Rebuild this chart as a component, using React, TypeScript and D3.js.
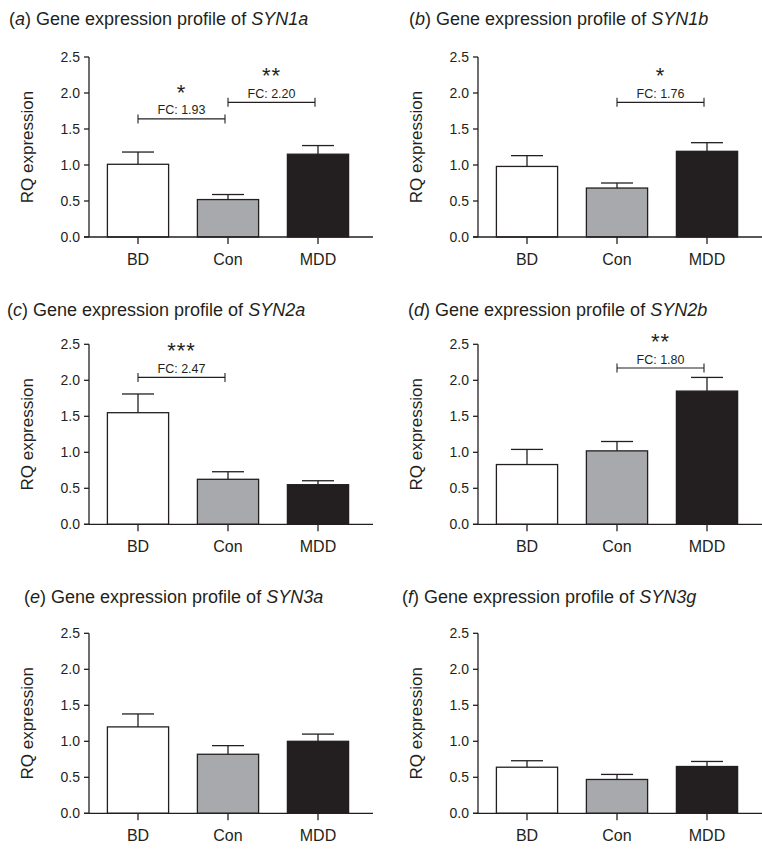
import React from "react";
import * as d3 from "d3";

// ---------- data ----------
const categories = ["BD", "Con", "MDD"];
const panelLetters = ["a", "b", "c", "d", "e", "f"];
const geneNames = ["SYN1a", "SYN1b", "SYN2a", "SYN2b", "SYN3a", "SYN3g"];
const meanValues = [
  [1.01, 0.52, 1.15],
  [0.98, 0.68, 1.19],
  [1.55, 0.625, 0.55],
  [0.83, 1.02, 1.85],
  [1.2, 0.82, 1.0],
  [0.64, 0.47, 0.65],
];
const errorValues = [
  [0.17, 0.07, 0.12],
  [0.15, 0.07, 0.12],
  [0.26, 0.105, 0.055],
  [0.21, 0.13, 0.19],
  [0.18, 0.12, 0.1],
  [0.09, 0.07, 0.07],
];
const yTicks = [0, 0.5, 1.0, 1.5, 2.0, 2.5];
const compPanels = [0, 0, 1, 2, 3];
const compFrom = ["BD", "Con", "Con", "BD", "Con"];
const compTo = ["Con", "MDD", "MDD", "Con", "MDD"];
const compLevel = [1.64, 1.87, 1.87, 2.04, 2.17];
const compFC = ["FC: 1.93", "FC: 2.20", "FC: 1.76", "FC: 2.47", "FC: 1.80"];
const compStars = ["*", "**", "*", "***", "**"];

// ---------- layout ----------
const W = 762;
const H = 854;
const colAxisX = [89, 478];
const rowZeroY = [237, 524.3, 813.3];
const titleX = [9, 409, 7, 408, 24, 402];
const titleY = [25, 25, 316, 316, 603, 603];
const fills = ["#ffffff", "#a7a9ac", "#231f20"];
const ink = "#231f20";
const FONT = "'Liberation Sans', Arial, Helvetica, sans-serif";

function Panel({ idx }: { idx: number }) {
  const col = idx % 2;
  const row = Math.floor(idx / 2);
  const ax = colAxisX[col];
  const y0 = rowZeroY[row];
  const y = d3.scaleLinear().domain([0, 2.5]).range([y0, y0 - 180]);
  const x = d3
    .scaleBand<string>()
    .domain(categories)
    .range([ax + 4, ax + 274])
    .paddingInner(0.32)
    .paddingOuter(0.16);
  const bw = x.bandwidth();
  const cx = (c: string) => (x(c) as number) + bw / 2;
  const sw = 1.3;
  const comps = compPanels
    .map((p, i) => ({ p, i }))
    .filter((d) => d.p === idx);

  return (
    <g fontFamily={FONT} fill={ink}>
      <text x={titleX[idx]} y={titleY[idx]} fontSize={18}>
        (<tspan fontStyle="italic">{panelLetters[idx]}</tspan>) Gene expression profile of{" "}
        <tspan fontStyle="italic">{geneNames[idx]}</tspan>
      </text>
      {/* y label */}
      <text
        transform={`translate(${ax - 56},${y0 - 90}) rotate(-90)`}
        textAnchor="middle"
        fontSize={17}
      >
        RQ expression
      </text>
      {/* bars */}
      {categories.map((c, k) => {
        const v = meanValues[idx][k];
        const e = errorValues[idx][k];
        return (
          <g key={c}>
            <line x1={cx(c)} x2={cx(c)} y1={y(v)} y2={y(v + e)} stroke={ink} strokeWidth={sw} />
            <line x1={cx(c) - 16} x2={cx(c) + 16} y1={y(v + e)} y2={y(v + e)} stroke={ink} strokeWidth={sw} />
            <rect
              x={x(c)}
              y={y(v)}
              width={bw}
              height={y(0) - y(v)}
              fill={fills[k]}
              stroke={ink}
              strokeWidth={sw}
            />
          </g>
        );
      })}
      {/* y axis */}
      <line x1={ax} x2={ax} y1={y(0)} y2={y(2.5)} stroke={ink} strokeWidth={sw} />
      {yTicks.map((t) => (
        <g key={t}>
          <line x1={ax - 5} x2={ax} y1={y(t)} y2={y(t)} stroke={ink} strokeWidth={sw} />
          <text x={ax - 9} y={y(t)} dy="0.36em" textAnchor="end" fontSize={14}>
            {d3.format(".1f")(t)}
          </text>
        </g>
      ))}
      {/* x axis */}
      <line x1={ax - 5} x2={ax + 284} y1={y(0)} y2={y(0)} stroke={ink} strokeWidth={sw} />
      {categories.map((c) => (
        <g key={c}>
          <line x1={cx(c)} x2={cx(c)} y1={y(0)} y2={y(0) + 7} stroke={ink} strokeWidth={sw} />
          <text x={cx(c)} y={y(0) + 28} textAnchor="middle" fontSize={16}>
            {c}
          </text>
        </g>
      ))}
      {/* comparisons */}
      {comps.map(({ i }) => {
        const x1 = cx(compFrom[i]);
        const x2 = cx(compTo[i]) - 3;
        const by = y(compLevel[i]);
        const mid = (x1 + x2) / 2;
        return (
          <g key={i}>
            <line x1={x1} x2={x2} y1={by} y2={by} stroke={ink} strokeWidth={1.1} />
            <line x1={x1} x2={x1} y1={by - 4.5} y2={by + 4.5} stroke={ink} strokeWidth={1.1} />
            <line x1={x2} x2={x2} y1={by - 4.5} y2={by + 4.5} stroke={ink} strokeWidth={1.1} />
            <text x={mid} y={by - 4.5} textAnchor="middle" fontSize={12.5}>
              {compFC[i]}
            </text>
            <text x={mid} y={by - 19} textAnchor="middle" fontSize={22} letterSpacing={1}>
              {compStars[i]}
            </text>
          </g>
        );
      })}
    </g>
  );
}

export default function App() {
  return (
    <svg
      width={W}
      height={H}
      viewBox={`0 0 ${W} ${H}`}
      style={{ position: "absolute", left: 0, top: 0, background: "#fff" }}
    >
      <rect width={W} height={H} fill="#fff" />
      {panelLetters.map((_, i) => (
        <Panel key={i} idx={i} />
      ))}
    </svg>
  );
}
